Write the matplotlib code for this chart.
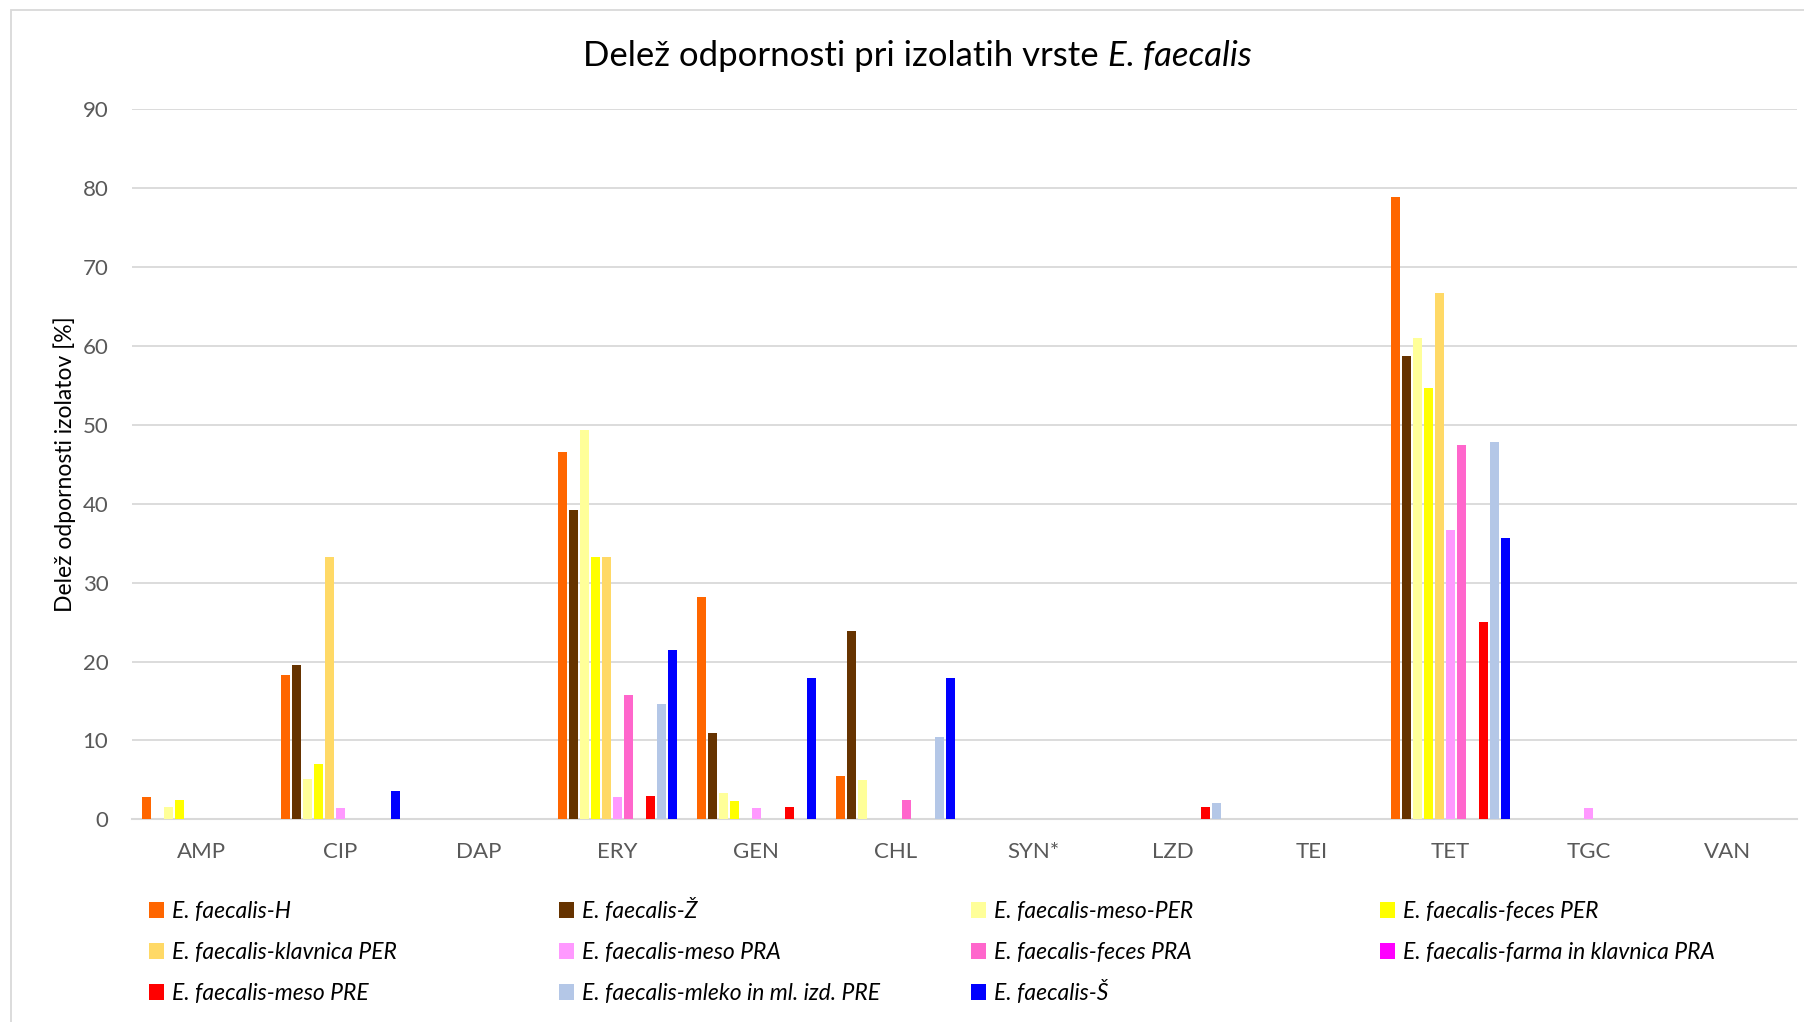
import matplotlib.pyplot as plt
from matplotlib.patches import Rectangle
import numpy as np

plt.rcParams['font.family'] = ['Lato', 'DejaVu Sans']

# antibiotics on the x axis
antibiotics = ['AMP', 'CIP', 'DAP', 'ERY', 'GEN', 'CHL', 'SYN*', 'LZD', 'TEI', 'TET', 'TGC', 'VAN']

series_names = ['E. faecalis-H', 'E. faecalis-Ž', 'E. faecalis-meso-PER', 'E. faecalis-feces PER',
                'E. faecalis-klavnica PER', 'E. faecalis-meso PRA', 'E. faecalis-feces PRA',
                'E. faecalis-farma in klavnica PRA', 'E. faecalis-meso PRE',
                'E. faecalis-mleko in ml. izd. PRE', 'E. faecalis-Š']
colors = ['#ff6600', '#663300', '#ffff99', '#ffff00', '#ffd966', '#ff99ff', '#ff66cc',
          '#ff00ff', '#ff0000', '#b4c7e7', '#0000ff']

# share of resistant isolates [%], one list per series
h_vals = [2.8, 18.3, 0, 46.6, 28.2, 5.5, 0, 0, 0, 78.9, 0, 0]
z_vals = [0, 19.6, 0, 39.2, 10.9, 23.9, 0, 0, 0, 58.7, 0, 0]
meso_per = [1.6, 5.1, 0, 49.3, 3.3, 5.0, 0, 0, 0, 61.0, 0, 0]
feces_per = [2.4, 7.0, 0, 33.3, 2.3, 0, 0, 0, 0, 54.7, 0, 0]
klavnica_per = [0, 33.3, 0, 33.3, 0, 0, 0, 0, 0, 66.7, 0, 0]
meso_pra = [0, 1.4, 0, 2.8, 1.4, 0, 0, 0, 0, 36.7, 1.4, 0]
feces_pra = [0, 0, 0, 15.8, 0, 2.5, 0, 0, 0, 47.4, 0, 0]
farma_pra = [0, 0, 0, 0, 0, 0, 0, 0, 0, 0, 0, 0]
meso_pre = [0, 0, 0, 3.0, 1.6, 0, 0, 1.5, 0, 25.0, 0, 0]
mleko_pre = [0, 0, 0, 14.6, 0, 10.4, 0, 2.1, 0, 47.8, 0, 0]
s_vals = [0, 3.6, 0, 21.4, 17.9, 17.9, 0, 0, 0, 35.6, 0, 0]

values = [h_vals, z_vals, meso_per, feces_per, klavnica_per, meso_pra,
          feces_pra, farma_pra, meso_pre, mleko_pre, s_vals]

W, H = 1804, 1022
fig = plt.figure(figsize=(W / 100, H / 100), dpi=100)
ax = fig.add_axes([132 / W, 1 - 819.3 / H, 1665 / W, 710 / H])

x = np.arange(len(antibiotics))
step = 0.0793
width = 0.065
bars = []
for i, (name, vals, col) in enumerate(zip(series_names, values, colors)):
    b = ax.bar(x + (i - 5) * step, vals, width, color=col, label=name, zorder=3)
    bars.append(b)

ax.set_xlim(-0.5, 11.5)
ax.set_ylim(0, 90)
ax.set_yticks(range(0, 91, 10))
ax.set_xticks(x, antibiotics)
ax.grid(axis='y', color='#d9d9d9', lw=1.3, zorder=0)
for s in ['top', 'right', 'left']:
    ax.spines[s].set_visible(False)
ax.spines['bottom'].set_color('#d9d9d9')
ax.spines['bottom'].set_linewidth(1.5)
ax.tick_params(length=0, labelsize=16, labelcolor='#595959')
ax.tick_params(axis='y', pad=17)
ax.tick_params(axis='x', pad=16)
ax.set_ylabel('Delež odpornosti izolatov [%]', fontsize=16.5)
ax.yaxis.set_label_coords(-0.0336, 0.5)

# title: plain part + italic species name, centred together
renderer = fig.canvas.get_renderer()
t_y = 1 - 56.5 / H
t1 = fig.text(0, t_y, 'Delež odpornosti pri izolatih vrste ', ha='left', va='center', fontsize=25)
t2 = fig.text(0, t_y, 'E. faecalis', ha='left', va='center', fontsize=25, style='italic')
w1 = t1.get_window_extent(renderer).width
w2 = t2.get_window_extent(renderer).width
x0 = 917.5 - (w1 + w2) / 2
t1.set_x(x0 / W)
t2.set_x((x0 + w1) / W)

# chart area border
fig.patches.append(Rectangle((11 / W, -0.1), 1.2, 0.1 + 1 - 10 / H, transform=fig.transFigure,
                             fill=False, ec='#d9d9d9', lw=1.3))

# legend: 4 columns filled row by row, one entry per legend so rows line up
col_x = [149, 559, 971, 1380]
row_y = [910, 951, 992]
entries = []
for k in range(len(series_names)):
    r, c = divmod(k, 4)
    leg = fig.legend([bars[k]], [series_names[k]], loc='center left',
                     bbox_to_anchor=(col_x[c] / W, 1 - row_y[r] / H),
                     frameon=False, borderpad=0, borderaxespad=0, handlelength=0.65,
                     handleheight=0.65, handletextpad=0.35,
                     prop={'family': 'Lato', 'style': 'italic', 'size': 16.5})
    entries.append((leg, col_x[c], row_y[r]))

fig.canvas.draw()
for leg, cx, ry in entries:
    bb = leg.legend_handles[0].get_window_extent()
    dx = cx - bb.x0
    dy = (H - ry) - (bb.y0 + bb.y1) / 2
    leg.set_bbox_to_anchor(((cx + dx) / W, 1 - ry / H + dy / H), transform=fig.transFigure)

fig.savefig('out.png', dpi=100)
